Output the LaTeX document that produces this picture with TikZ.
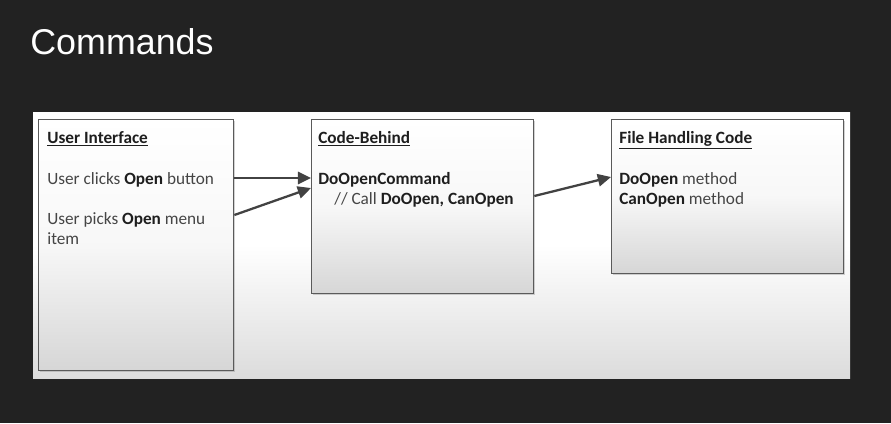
\documentclass[tikz,border=0pt]{standalone}
\usepackage{fontspec}
\setmainfont{Carlito}
\newfontfamily\slidefont{Liberation Sans}
\usetikzlibrary{positioning, arrows.meta, shadows}
\definecolor{cmSlide}{HTML}{222222}
\definecolor{cmLine}{HTML}{5A5A5A}
\definecolor{cmArrowC}{HTML}{424242}
\definecolor{cmText}{HTML}{454545}
\definecolor{cmBold}{HTML}{1E1E1E}
\definecolor{cmPanelB}{HTML}{DCDCDC}
\definecolor{cmBoxB}{HTML}{D6D6D6}
\tikzset{
  cmBox/.style={rectangle, draw=cmLine, line width=0.8pt, anchor=north west,
                top color=white, bottom color=cmBoxB, middle color=white!97!black,
                drop shadow={shadow xshift=0.8pt, shadow yshift=-0.8pt, opacity=0.35}},
  cmText/.style={anchor=base west, inner sep=0pt, text=cmText,
                 font=\fontsize{9.8pt}{11.4pt}\selectfont},
  cmHead/.style={cmText, text=cmBold, font=\fontsize{9.8pt}{11.4pt}\selectfont\bfseries},
  cmArrow/.style={-{Triangle[length=7.5pt, width=7pt]}, line width=1.3pt, draw=cmArrowC},
}
\newcommand{\kw}[1]{{\bfseries\color{cmBold}#1}}

\begin{document}
\begin{tikzpicture}[x=0.02cm, y=-0.02cm]

  % --- slide and white panel ---
  \fill[cmSlide] (0,0) rectangle (891,423);
  \useasboundingbox (0,0) rectangle (891,423);
  \shade[top color=white, bottom color=cmPanelB, middle color=white] (33,112) rectangle (850,378);
  \node[font=\slidefont\fontsize{20.4pt}{24pt}\selectfont, text=white, anchor=base west, inner sep=0pt]
        (title) at (30,54) {Commands};

  % --- the three boxes ---
  \node[cmBox, minimum width=3.9cm,  minimum height=5.02cm] (ui)   at (38,119)  {};
  \node[cmBox, minimum width=4.44cm, minimum height=3.48cm] (code) at (311,119) {};
  \node[cmBox, minimum width=4.64cm, minimum height=3.08cm] (file) at (611,119) {};

  % user interface
  \node[cmHead] (uiHead)  at (47,143) {\underline{User Interface}};
  \node[cmText] (clicks)  at (47,184) {User clicks \kw{Open} button};
  \node[cmText] (picks)   at (47,224) {User picks \kw{Open} menu};
  \node[cmText] (item)    at (47,244) {item};

  % code-behind
  \node[cmHead] (codeHead) at (318,143) {\underline{Code-Behind}};
  \node[cmHead] (cmd)      at (318,184) {DoOpenCommand};
  \node[cmText] (call)     at (334,204) {// Call \kw{DoOpen, CanOpen}};

  % file handling
  \node[cmHead] (fileHead) at (619,143) {\underline{File Handling Code}};
  \node[cmText] (doOpen)   at (619,184) {\kw{DoOpen} method};
  \node[cmText] (canOpen)  at (619,204) {\kw{CanOpen} method};

  % --- connectors ---
  \coordinate (a1) at (ui.east |- 0,178);
  \coordinate (b1) at (code.west |- 0,178);
  \coordinate (a2) at (ui.east |- 0,215);
  \coordinate (b2) at (code.west |- 0,188);
  \coordinate (a3) at (code.east |- 0,196);
  \coordinate (b3) at (file.west |- 0,177);
  \draw[cmArrow] (a1) -- (b1);
  \draw[cmArrow] (a2) -- (b2);
  \draw[cmArrow] (a3) -- (b3);

\end{tikzpicture}
\end{document}
